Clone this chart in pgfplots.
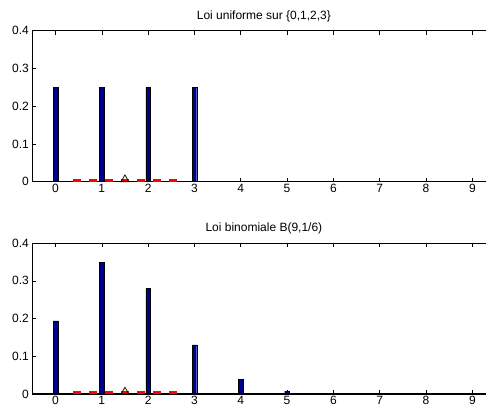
\documentclass[border=0pt]{standalone}
\usepackage{fontspec}
\setmainfont{Liberation Sans}
\usepackage{pgfplots}
\pgfplotsset{compat=1.18}
\definecolor{barblue}{rgb}{0,0,0.56}

\pgfplotsset{
  loiaxe/.style={
    scale only axis,
    width=463.2pt, height=151pt,
    xmin=-0.5, xmax=9.5, ymin=0, ymax=0.4,
    clip=false,
    xtick={0,1,...,9},
    ytick={0,0.1,0.2,0.3,0.4},
    yticklabels={0,0.1,0.2,0.3,0.4},
    tick align=inside,
    major tick length=4pt,
    tick style={black, line width=0.5pt},
    axis line style={line width=0.6pt},
    ytick pos=left,
    xtick pos=both,
    xticklabel pos=bottom,
    /pgf/number format/assume math mode=true,
    tick label style={font=\fontsize{12}{14}\selectfont},
    xticklabel style={yshift=1pt},
    title style={font=\fontsize{12}{14}\selectfont, yshift=-1pt},
    bar width=0.1,
  },
  barres/.style={ybar, fill=barblue, draw=black, line width=0.4pt},
  base/.style={sharp plot, black, line width=1.2pt},
  ecart/.style={sharp plot, red, line width=3pt, dash pattern=on 8pt off 8pt},
  moyenne/.style={only marks, mark=triangle, mark size=4.5pt,
    mark options={black, line width=0.7pt}},
}

\begin{document}
\begin{tikzpicture}
\useasboundingbox (-32.3pt,-15pt) rectangle (453.7pt,394pt);

% Loi uniforme
\begin{axis}[loiaxe, at={(0pt,212.3pt)}, anchor=south west,
  title={Loi uniforme sur \{0,1,2,3\}}]
  \addplot[barres] coordinates {(0,0.25)(1,0.25)(2,0.25)(3,0.25)
    (4,0)(5,0)(6,0)(7,0)(8,0)(9,0)};
  \addplot[base] coordinates {(-0.5,0)(9.5,0)};
  \addplot[ecart] coordinates {(0.382,0.004)(2.618,0.004)};
  \addplot[moyenne] coordinates {(1.5,0.006)};
\end{axis}

% Loi binomiale
\begin{axis}[loiaxe, at={(0pt,0pt)}, anchor=south west,
  title={Loi binomiale B(9,1/6)}]
  \addplot[barres] coordinates {(0,0.1938)(1,0.3489)(2,0.2791)(3,0.1302)
    (4,0.0391)(5,0.0078)(6,0.0010)(7,0.0001)(8,0)(9,0)};
  \addplot[base] coordinates {(-0.5,0)(9.5,0)};
  \addplot[ecart] coordinates {(0.382,0.004)(2.618,0.004)};
  \addplot[moyenne] coordinates {(1.5,0.006)};
\end{axis}
\end{tikzpicture}
\end{document}
